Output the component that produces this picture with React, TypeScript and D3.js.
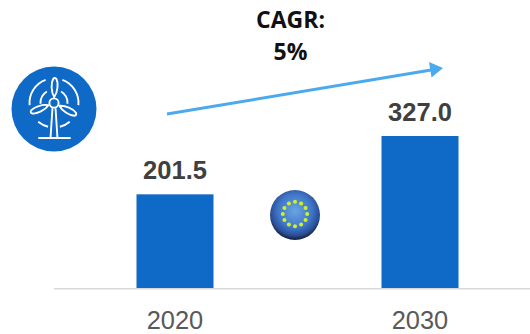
import React from "react";
import * as d3 from "d3";

const years = ["2020", "2030"];
const marketValues = [201.5, 327.0];
const growthLines = ["CAGR:", "5%"];
const euStarCount = 12;

const WIDTH = 530;
const HEIGHT = 334;
const BASELINE = 288;
const BAR_WIDTH = 77;
const BLUE = "#0F69C6";

const x = d3.scalePoint<string>().domain(years).range([175, 420]);
const y = d3.scaleLinear().domain([0, 327]).range([BASELINE, 136]);

// Arc segment centred on the turbine hub, angles in radians clockwise from north.
const hubArc = (radius: number, start: number, end: number) =>
  d3.arc()({ innerRadius: radius, outerRadius: radius, startAngle: start, endAngle: end }) as string;

const deg = (d: number) => (d * Math.PI) / 180;

function TurbineIcon() {
  const blade = "M0,-6 C-3.4,-11 -3.8,-20 -1.7,-24 Q0,-26 1.7,-24 C3.8,-20 3.4,-11 0,-6 Z";
  return (
    <g>
      <circle cx={54} cy={109} r={42.5} fill={BLUE} />
      <g transform="translate(54,103)" fill="none" stroke="#fff" strokeWidth={1.9} strokeLinecap="round">
        <circle r={4.6} />
        <path d={blade} transform="rotate(2)" />
        <path d={blade} transform="rotate(-112)" />
        <path d={blade} transform="rotate(118)" />
        <path d={hubArc(13.5, deg(-93), deg(-32))} />
        <path d={hubArc(13.5, deg(32), deg(93))} />
        <path d={hubArc(24.5, deg(-95), deg(-20))} />
        <path d={hubArc(24.5, deg(20), deg(95))} />
        <path d={hubArc(24.5, deg(140), deg(166))} />
        <path d={hubArc(24.5, deg(194), deg(220))} />
        <path d="M-1.6,6 L-3.4,34 M1.6,6 L3.4,34 M-15,35 H16" />
      </g>
    </g>
  );
}

function EuGlobe() {
  const cx = 295;
  const cy = 215;
  const stars = d3.range(euStarCount).map((i) => (i * 2 * Math.PI) / euStarCount);
  return (
    <g>
      <defs>
        <radialGradient id="globeFill" cx="50%" cy="42%" r="58%">
          <stop offset="0%" stopColor="#6AA5E2" />
          <stop offset="60%" stopColor="#3E74C6" />
          <stop offset="85%" stopColor="#2A4C94" />
          <stop offset="100%" stopColor="#121A33" />
        </radialGradient>
        <filter id="soft" x="-20%" y="-20%" width="140%" height="140%">
          <feGaussianBlur stdDeviation="0.6" />
        </filter>
      </defs>
      <g filter="url(#soft)">
        <circle cx={cx} cy={cy} r={25} fill="url(#globeFill)" />
        {stars.map((a, i) => (
          <circle
            key={i}
            cx={cx + 12.2 * Math.sin(a)}
            cy={cy - 1 - 12.2 * Math.cos(a)}
            r={2}
            fill="#CFF02A"
          />
        ))}
      </g>
    </g>
  );
}

export default function App() {
  return (
    <svg
      width={WIDTH}
      height={HEIGHT}
      viewBox={`0 0 ${WIDTH} ${HEIGHT}`}
      style={{ position: "absolute", left: 0, top: 0, background: "#fff" }}
    >
      <line x1={54} x2={530} y1={BASELINE + 0.8} y2={BASELINE + 0.8} stroke="#D9D9D9" strokeWidth={1.6} />

      {years.map((year, i) => {
        const cx = x(year) as number;
        const top = y(marketValues[i]);
        return (
          <g key={year}>
            <rect x={cx - BAR_WIDTH / 2} y={top} width={BAR_WIDTH} height={BASELINE - top} fill={BLUE} />
            <text
              x={cx}
              y={top - 15}
              textAnchor="middle"
              fontFamily="'Liberation Sans', Arial, sans-serif"
              fontWeight={700}
              fontSize={25.5}
              fill="#404040"
            >
              {marketValues[i].toFixed(1)}
            </text>
            <text
              x={cx}
              y={328.5}
              textAnchor="middle"
              fontFamily="'Liberation Sans', Arial, sans-serif"
              fontSize={25.4}
              fill="#595959"
            >
              {year}
            </text>
          </g>
        );
      })}

      {growthLines.map((line, i) => (
        <text
          key={line}
          x={290.5}
          y={27.5 + i * 32}
          textAnchor="middle"
          fontFamily="'Open Sans', sans-serif"
          fontWeight={700}
          fontSize={23}
          fill="#111"
        >
          {line}
        </text>
      ))}

      <line x1={167} y1={114} x2={431} y2={70} stroke="#4BA9EE" strokeWidth={3} />
      <path d="M443,68 L429,62 L431.5,77.5 Z" fill="#4BA9EE" />

      <TurbineIcon />
      <EuGlobe />
    </svg>
  );
}
